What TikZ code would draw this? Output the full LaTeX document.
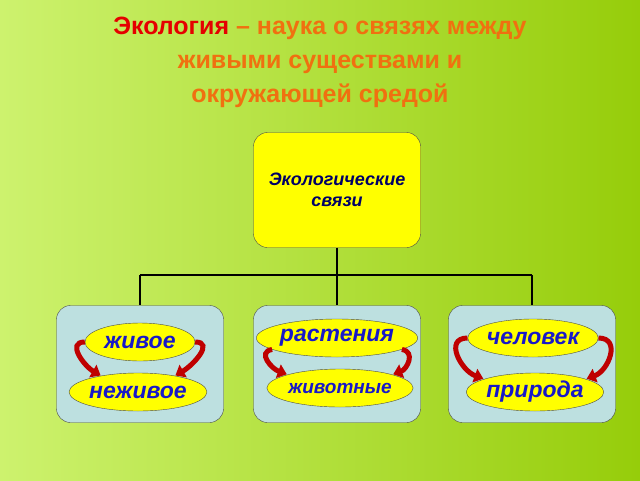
\documentclass[tikz,border=0pt]{standalone}
\usepackage{fontspec}
\setmainfont{Liberation Sans}
\usetikzlibrary{arrows.meta,shapes.geometric}
\definecolor{ttl}{HTML}{F07010}
\definecolor{bx}{HTML}{BDE0E0}
\definecolor{el}{HTML}{FFFF00}
\definecolor{tx}{HTML}{1818C8}
\tikzset{x=1pt,y=-1pt,
 topbox/.style={draw=black!70,fill=el,rounded corners=14pt,minimum width=167pt,minimum height=115pt,font=\bfseries\itshape\fontsize{18}{21}\selectfont,text=blue!40!black,align=center},
 catbox/.style={draw=black!70,fill=bx,rounded corners=14pt,minimum width=167pt,minimum height=117pt},
 ov/.style={ellipse,draw=black!70,fill=el,minimum width=110pt,minimum height=38pt,inner sep=0pt,font=\bfseries\itshape\fontsize{23}{25}\selectfont,text=tx},
 conn/.style={draw=black,line width=1.2pt},
 carr/.style={draw=red!75!black,line width=5pt,-{Triangle[length=9pt,width=14pt]}}}
\begin{document}
\begin{tikzpicture}
\shade[left color={rgb,255:red,205;green,242;blue,110},right color={rgb,255:red,150;green,205;blue,10}] (0,0) rectangle (640,480);
\useasboundingbox (0,0) rectangle (640,480);
\node[align=center,font=\bfseries\fontsize{25}{34}\selectfont,text=ttl] (title) at (320,62) {{\color{red!90!black}Экология} – наука о связях между\\живыми существами и\\окружающей средой};
\node[topbox] (top) at (337,190) {Экологические\\связи};
\node[catbox] (c1) at (140,364) {};
\node[catbox] (c2) at (337,364) {};
\node[catbox] (c3) at (532,364) {};
\coordinate (j) at (337,275);
\coordinate (j1) at (140,275);
\coordinate (j3) at (532,275);
\draw[conn] (top.south) -- (j);
\draw[conn] (j1) -- (j3);
\draw[conn] (j1) -- (c1.north);
\draw[conn] (j) -- (c2.north);
\draw[conn] (j3) -- (c3.north);
\node[ov] (a1) at (140,342) {живое};
\node[ov,minimum width=122pt] (b1) at (138,392) {неживое};
\node[ov,minimum width=122pt] (a2) at (337,338) {растения};
\node[ov,minimum width=122pt,font=\bfseries\itshape\fontsize{19}{21}\selectfont] (b2) at (340,388) {животные};
\node[ov,minimum width=120pt] (a3) at (533,338) {человек};
\node[ov,minimum width=120pt] (b3) at (535,392) {природа};
\draw[carr] (a1.west) to[out=180,in=150,looseness=1.3] ([xshift=-2pt]b1.155);
\draw[carr] (a1.east) to[out=0,in=30,looseness=1.3] ([xshift=2pt]b1.25);
\draw[carr] (a2.190) to[out=190,in=160,looseness=1.4] ([xshift=-2pt]b2.165);
\draw[carr] (a2.-10) to[out=-10,in=20,looseness=1.4] ([xshift=2pt]b2.15);
\draw[carr] (a3.west) to[out=180,in=160,looseness=1.4] ([xshift=-2pt]b3.165);
\draw[carr] (a3.east) to[out=0,in=20,looseness=1.4] ([xshift=2pt]b3.15);
\end{tikzpicture}
\end{document}
